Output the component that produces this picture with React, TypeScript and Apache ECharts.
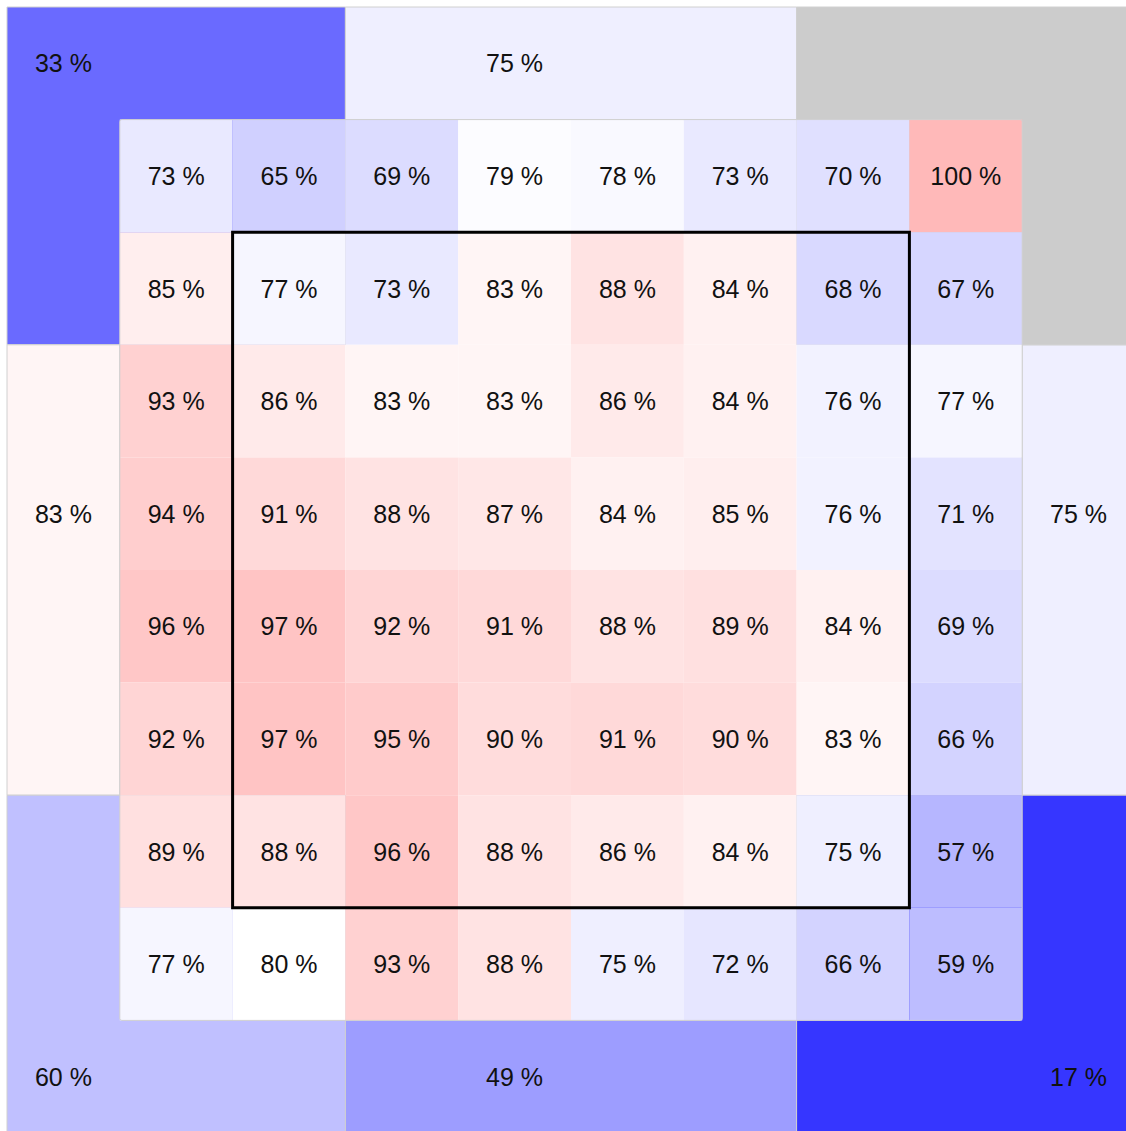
import React, { useEffect, useRef } from "react";
import * as echarts from "echarts";

// Outer zones: spans in cell units [x0, y0, x1, y1]
const zoneSpans: number[][] = [
  [0, 0, 3, 3],
  [3, 0, 7, 1],
  [7, 0, 10, 3],
  [0, 3, 1, 7],
  [9, 3, 10, 7],
  [0, 7, 3, 10],
  [3, 9, 7, 10],
  [7, 7, 10, 10],
];
const zoneValues: (number | null)[] = [33, 75, null, 83, 75, 60, 49, 17];
const zoneLabelCells: (number[] | null)[] = [[0, 0], [4, 0], null, [0, 4], [9, 4], [0, 9], [4, 9], [9, 9]];

// Inner 8x8 grid (rows 1..8, cols 1..8)
const cellRow1 = [73, 65, 69, 79, 78, 73, 70, 100];
const cellRow2 = [85, 77, 73, 83, 88, 84, 68, 67];
const cellRow3 = [93, 86, 83, 83, 86, 84, 76, 77];
const cellRow4 = [94, 91, 88, 87, 84, 85, 76, 71];
const cellRow5 = [96, 97, 92, 91, 88, 89, 84, 69];
const cellRow6 = [92, 97, 95, 90, 91, 90, 83, 66];
const cellRow7 = [89, 88, 96, 88, 86, 84, 75, 57];
const cellRow8 = [77, 80, 93, 88, 75, 72, 66, 59];
const cellRows = [cellRow1, cellRow2, cellRow3, cellRow4, cellRow5, cellRow6, cellRow7, cellRow8];

const innerBlock = [1, 1, 9, 9];
const strikeZone = [2, 2, 8, 8];

const FONT = '25px "Liberation Sans", Arial, Helvetica, sans-serif';

export default function App() {
  const ref = useRef<HTMLDivElement>(null);
  useEffect(() => {
    if (!ref.current) return;
    const chart = echarts.init(ref.current, null, { renderer: "svg" });

    const zoneData: any[] = [];
    const emptyZoneData: any[] = [];
    zoneSpans.forEach((s, i) => {
      const v = zoneValues[i];
      const lc = zoneLabelCells[i];
      if (v === null || !lc) emptyZoneData.push([s[0], s[1], s[2], s[3]]);
      else zoneData.push([s[0], s[1], s[2], s[3], v, lc[0], lc[1]]);
    });

    const cellData: any[] = [];
    cellRows.forEach((row, ri) => {
      row.forEach((v, ci) => {
        const c = ci + 1;
        const r = ri + 1;
        cellData.push([c, r, c + 1, r + 1, v, c, r]);
      });
    });

    const makeRender = (stroke: string | null, withLabel: boolean) => (params: any, api: any) => {
      const p0 = api.coord([api.value(0), api.value(1)]);
      const p1 = api.coord([api.value(2), api.value(3)]);
      const children: any[] = [
        {
          type: "rect",
          shape: { x: p0[0], y: p0[1], width: p1[0] - p0[0], height: p1[1] - p0[1] },
          style: {
            fill: withLabel ? api.visual("color") : "#cccccc",
            stroke: stroke || undefined,
            lineWidth: stroke ? 1 : 0,
          },
        },
      ];
      if (withLabel) {
        const lc = api.coord([api.value(5) + 0.5, api.value(6) + 0.5]);
        children.push({
          type: "text",
          style: {
            text: api.value(4) + " %",
            x: lc[0],
            y: lc[1],
            align: "center",
            verticalAlign: "middle",
            textAlign: "center",
            textVerticalAlign: "middle",
            font: FONT,
            fill: "#111111",
          },
        });
      }
      return { type: "group", children };
    };

    const outlineRender = (color: string, width: number, radius: number) => (params: any, api: any) => {
      const p0 = api.coord([api.value(0), api.value(1)]);
      const p1 = api.coord([api.value(2), api.value(3)]);
      return {
        type: "rect",
        shape: { x: p0[0], y: p0[1], width: p1[0] - p0[0], height: p1[1] - p0[1], r: radius },
        style: { fill: "none", stroke: color, lineWidth: width },
      };
    };

    chart.setOption({
      animation: false,
      grid: { left: 7, top: 7, width: 1128, height: 1126 },
      xAxis: { type: "value", min: 0, max: 10, show: false },
      yAxis: { type: "value", min: 0, max: 10, inverse: true, show: false },
      visualMap: {
        type: "continuous",
        show: false,
        min: 0,
        max: 100,
        dimension: 4,
        seriesIndex: [0, 2],
        inRange: { color: ["#0000ff", "#4040ff", "#8080ff", "#c0c0ff", "#ffffff", "#ffb9b9"] },
      },
      series: [
        { type: "custom", silent: true, clip: false, renderItem: makeRender("#d0d0d0", true), data: zoneData },
        { type: "custom", silent: true, clip: false, renderItem: makeRender("#d0d0d0", false), data: emptyZoneData },
        { type: "custom", silent: true, clip: false, renderItem: makeRender(null, true), data: cellData },
        { type: "custom", silent: true, clip: false, renderItem: outlineRender("#d0d0d0", 1, 2), data: [innerBlock] },
        { type: "custom", silent: true, clip: false, renderItem: outlineRender("#000000", 3, 0), data: [strikeZone] },
      ],
    });
    return () => chart.dispose();
  }, []);
  return (
    <div
      style={{ position: "absolute", left: 0, top: 0, width: 1126, height: 1131, overflow: "hidden", background: "#ffffff" }}
    >
      <div ref={ref} style={{ width: 1145, height: 1145 }} />
    </div>
  );
}
